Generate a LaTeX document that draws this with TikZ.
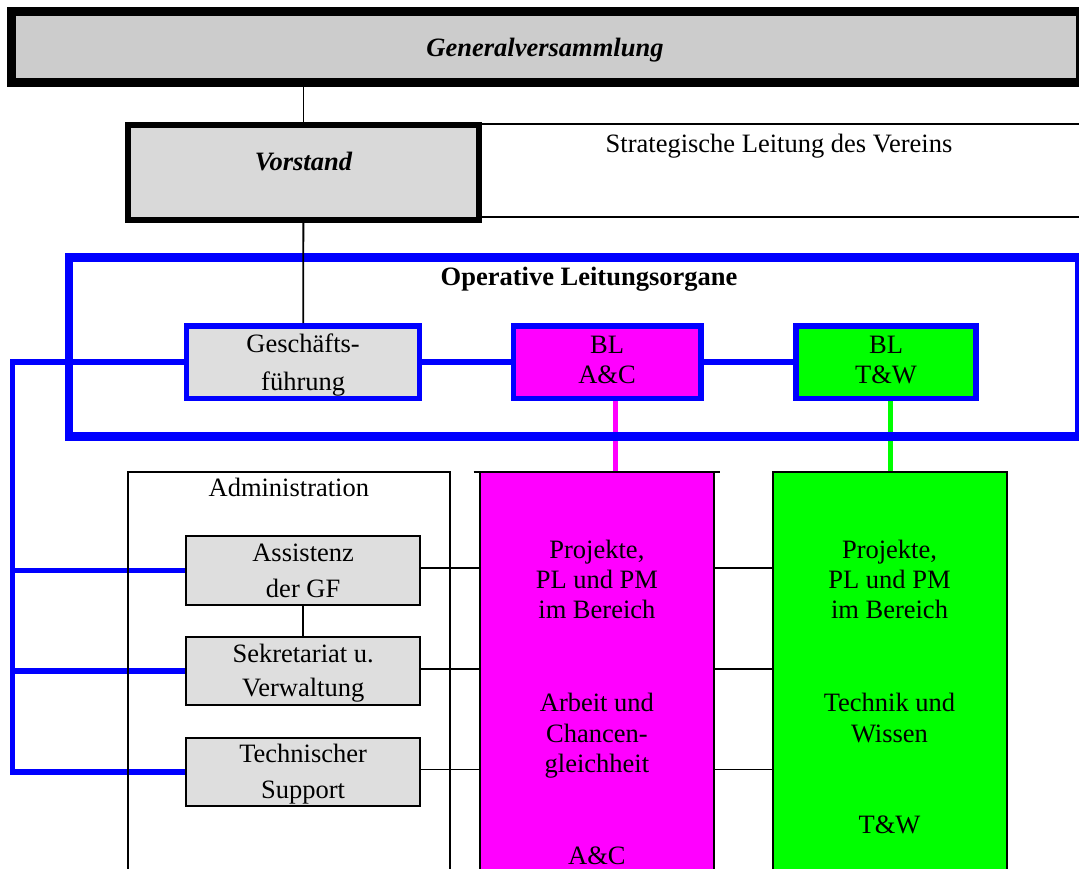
\documentclass[tikz,border=0pt]{standalone}
\usepackage{fontspec}
\setmainfont{Liberation Serif}
\definecolor{genfill}{HTML}{CCCCCC}
\definecolor{vorfill}{HTML}{D9D9D9}
\definecolor{lgray}{HTML}{DEDEDE}
\definecolor{pblue}{HTML}{0000FF}
\definecolor{pmag}{HTML}{FF00FF}
\definecolor{pgreen}{HTML}{00FF00}
\pgfdeclarelayer{bg}
\pgfsetlayers{bg,main}
\newcommand{\fs}[1]{\fontsize{26.5}{#1}\selectfont}
\begin{document}
\begin{tikzpicture}[x=1pt,y=-1pt,
  every node/.style={font=\fs{30}},
  box/.style={rectangle, inner sep=0pt, outer sep=0pt},
  lbl/.style={inner sep=0pt, outer sep=0pt, anchor=base, align=center},
  blkline/.style={draw=black, line width=1.8pt},
  blueline/.style={draw=pblue, line width=5.5pt, line join=miter},
  bluebox/.style={box, draw=pblue, line width=5.5pt},
  graybox/.style={box, draw=black, line width=2pt, fill=lgray},
  colbox/.style={box, draw=black, line width=2pt},
]
\useasboundingbox (0,0) rectangle (1079,868);
\clip (0,0) rectangle (1079,868);

% top level
\node[box, draw=black, line width=9pt, fill=genfill, minimum width=1069.3pt, minimum height=71.1pt] (gen) at (545.85,46.75) {};
\node[lbl, font=\fs{30}\bfseries\itshape] (gentxt) at (545,56.7) {Generalversammlung};

\node[box, draw=black, line width=6pt, fill=vorfill, minimum width=350.8pt, minimum height=94.2pt] (vor) at (303.4,172.4) {};
\node[lbl, font=\fs{30}\bfseries\itshape] (vortxt) at (303.4,170) {Vorstand};

% strategic band
\coordinate (stA) at (481,124);
\coordinate (stB) at (1085,124);
\coordinate (stC) at (481,216.7);
\coordinate (stD) at (1085,216.7);
\draw[blkline] (stA) -- (stB);
\draw[blkline] (stC) -- (stD);
\node[lbl] (strat) at (779,152) {Strategische Leitung des Vereins};

% operative frame
\node[box, draw=pblue, line width=8.3pt, minimum width=1010.3pt, minimum height=179pt] (op) at (574.35,347) {};
\node[lbl, font=\fs{30}\bfseries] (optxt) at (589,285) {Operative Leitungsorgane};

\node[bluebox, fill=lgray, minimum width=232.9pt, minimum height=72.7pt] (gf) at (303.15,362.15) {};
\node[bluebox, fill=pmag, minimum width=187.3pt, minimum height=72.7pt] (ac) at (607.15,362.15) {};
\node[bluebox, fill=pgreen, minimum width=180pt, minimum height=72.7pt] (tw) at (886,362.15) {};
\node[lbl, font=\fs{37.7}] (gftxt) at (303.15,390) {Geschäfts-\\führung};
\node[lbl] (actxt) at (607,383.3) {BL\\A\&C};
\node[lbl] (twtxt) at (886,383.3) {BL\\T\&W};

% lower columns
\node[box, draw=black, line width=1.8pt, minimum width=322.3pt, minimum height=428.3pt] (adm) at (288.85,685.85) {};
\node[lbl] (admtxt) at (288.85,496.7) {Administration};

\node[colbox, fill=pmag, minimum width=233.8pt, minimum height=428.3pt] (pink) at (596.9,685.85) {};
\node[colbox, fill=pgreen, minimum width=234pt, minimum height=428.3pt] (green) at (889.5,685.85) {};
\draw[blkline, line width=2pt] ([xshift=-6.4pt]pink.north west) -- ([xshift=5.7pt]pink.north east);

\node[graybox, minimum width=233.7pt, minimum height=69pt] (ass) at (303.15,570.5) {};
\node[graybox, minimum width=233.7pt, minimum height=67.7pt] (sek) at (303.15,671.15) {};
\node[graybox, minimum width=233.7pt, minimum height=68pt] (tech) at (303.15,772) {};
\node[lbl, font=\fs{36}] (asstxt) at (303.15,597) {Assistenz\\der GF};
\node[lbl, font=\fs{34.5}] (sektxt) at (303.15,696.7) {Sekretariat u.\\Verwaltung};
\node[lbl, font=\fs{36}] (techtxt) at (303.15,798.3) {Technischer\\Support};

\node[lbl] (p1) at (596.9,618.3) {Projekte,\\PL und PM\\im Bereich};
\node[lbl, font=\fs{30.3}] (p2) at (596.9,772.3) {Arbeit und\\Chancen-\\gleichheit};
\node[lbl] (p3) at (596.9,864) {A\&C};
\node[lbl] (g1) at (889.5,618.3) {Projekte,\\PL und PM\\im Bereich};
\node[lbl, font=\fs{30.5}] (g2) at (889.5,742.3) {Technik und\\Wissen};
\node[lbl] (g3) at (889.5,833.3) {T\&W};

% connectors
\coordinate (bx) at (12.3,362.15);
\begin{pgfonlayer}{bg}
  \draw[blkline] (vor.north |- gen.south) -- (vor.north);
  \draw[blueline] (gf.east) -- (ac.west);
  \draw[blueline] (ac.east) -- (tw.west);
  \draw[blueline] (gf.west) -- (bx) -- (bx |- tech.west) -- (tech.west);
  \draw[blueline] (bx |- ass.west) -- (ass.west);
  \draw[blueline] (bx |- sek.west) -- (sek.west);
  \draw[draw=pmag, line width=5.3pt] ([xshift=8.5pt]ac.south) -- ([xshift=8.5pt]ac.south |- pink.north);
  \draw[draw=pgreen, line width=5.3pt] ([xshift=4.6pt]tw.south) -- ([xshift=4.6pt]tw.south |- green.north);
  \draw[blkline] (ass.south) -- (sek.north);
  \draw[blkline] ([yshift=2.5pt]ass.east) -- ([yshift=2.5pt]ass.east -| pink.west);
  \draw[blkline] ([yshift=2.5pt]sek.east) -- ([yshift=2.5pt]sek.east -| pink.west);
  \draw[blkline] ([yshift=2.5pt]tech.east) -- ([yshift=2.5pt]tech.east -| pink.west);
  \draw[blkline] ([yshift=2.5pt]ass.east -| pink.east) -- ([yshift=2.5pt]ass.east -| green.west);
  \draw[blkline] ([yshift=2.5pt]sek.east -| pink.east) -- ([yshift=2.5pt]sek.east -| green.west);
  \draw[blkline] ([yshift=2.5pt]tech.east -| pink.east) -- ([yshift=2.5pt]tech.east -| green.west);
\end{pgfonlayer}
\draw[blkline] (vor.south) -- ([yshift=2.75pt]gf.north);
\end{tikzpicture}
\end{document}
